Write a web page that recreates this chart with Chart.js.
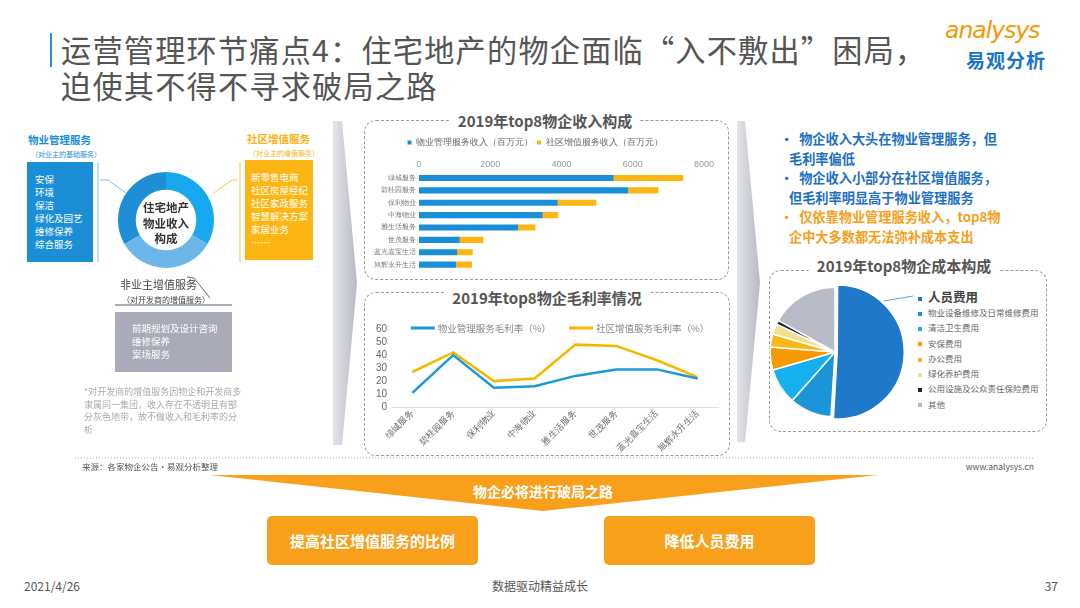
<!DOCTYPE html>
<html>
<head>
<meta charset="utf-8">
<script src="https://cdn.jsdelivr.net/npm/chart.js@4.4.1/dist/chart.umd.min.js"></script>
<style>
  body { margin: 0; background: #fff; font-family: "Noto Sans CJK SC", "Noto Sans", sans-serif; }
  #slide { position: relative; width: 1080px; height: 608px; overflow: hidden; background: #fff; }
  .abs { position: absolute; white-space: nowrap; }
  .box { position: absolute; border: 1px dashed #9a9a9a; border-radius: 12px; }
  .boxTitle { position: absolute; background: #fff; padding: 0 8px; font-weight: bold; font-size: 15px; color: #555; white-space: nowrap; transform: translate(-50%, -50%); }
  .list { position: absolute; color: #fff; font-size: 9.5px; line-height: 13px; white-space: nowrap; }
  .bullet { position: absolute; font-size: 13.2px; font-weight: bold; line-height: 19.5px; white-space: nowrap; }
  .pieLegend div { height: 15.3px; line-height: 15.3px; font-size: 8.5px; color: #666; white-space: nowrap; }
  .pieLegend span { display: inline-block; width: 4px; height: 4px; margin-right: 6px; vertical-align: middle; }
</style>
</head>
<body>
<div id="slide">
  <svg class="abs" style="left:0;top:0" width="1080" height="608">
    <defs>
      <linearGradient id="chev" x1="0" y1="0" x2="1" y2="0">
        <stop offset="0" stop-color="#e4e5ea"/>
        <stop offset="1" stop-color="#b7b9c4"/>
      </linearGradient>
    </defs>
    <rect x="50" y="33" width="2" height="34" fill="#1f8fe0"/>
    <polygon points="333,121 342,121 357,283 342,445 333,445 333,121" fill="url(#chev)"/>
    <polygon points="737,121 745,121 760,283 745,442 737,442 737,121" fill="url(#chev)"/>
    <line x1="98" y1="163" x2="98" y2="262" stroke="#7cc0ee" stroke-width="1"/>
    <polyline points="100,180 108,180 126,193" fill="none" stroke="#7cc0ee" stroke-width="1"/>
    <line x1="240" y1="162" x2="240" y2="262" stroke="#f9c34a" stroke-width="1"/>
    <polyline points="238,180 232,180 214,193" fill="none" stroke="#f9c34a" stroke-width="1"/>
    <polyline points="187,277 194,278 210,298" fill="none" stroke="#666" stroke-width="1"/>
    <line x1="115" y1="305" x2="232" y2="305" stroke="#a9acb8" stroke-width="2"/>
    <line x1="884" y1="301" x2="913" y2="296" stroke="#5aa3e0" stroke-width="1"/>
    <line x1="75" y1="458" x2="1035" y2="458" stroke="#aaa" stroke-width="1" stroke-dasharray="1,2"/>
    <polygon points="210,475 878,475 543,511" fill="#f8a01c"/>
  </svg>

  <!-- title -->
  <div class="abs" style="left:61px;top:34px;font-size:30.2px;letter-spacing:1.2px;line-height:31px;color:#555;">运营管理环节痛点4：住宅地产的物企面临“入不敷出”困局，</div>
  <div class="abs" style="left:61px;top:70px;font-size:30.2px;letter-spacing:1.2px;line-height:31px;color:#555;">迫使其不得不寻求破局之路</div>
  <div class="abs" style="left:945px;top:16px;font-size:23.5px;font-style:italic;color:#f39800;font-family:'DejaVu Sans';letter-spacing:-1px;">analysys</div>
  <div class="abs" style="left:966px;top:46px;font-size:19px;font-weight:bold;color:#1a75c8;letter-spacing:1px;">易观分析</div>

  <!-- left diagram -->
  <div class="abs" style="left:28px;top:132px;font-size:10.5px;color:#1a8fd8;font-weight:bold;">物业管理服务</div>
  <div class="abs" style="left:31px;top:149px;font-size:7px;color:#1a8fd8;">（对业主的基础服务）</div>
  <div class="abs" style="left:27px;top:162px;width:66px;height:100px;background:#1a8fd8;"></div>
  <div class="list" style="left:35px;top:173px;">安保<br>环境<br>保洁<br>绿化及园艺<br>维修保养<br>综合服务</div>

  <div class="abs" style="left:247px;top:131px;font-size:10.5px;color:#f9b213;font-weight:bold;">社区增值服务</div>
  <div class="abs" style="left:249px;top:148px;font-size:7px;color:#f9b213;">（对业主的增值服务）</div>
  <div class="abs" style="left:245px;top:160px;width:68px;height:100px;background:#fbb613;"></div>
  <div class="list" style="left:251px;top:171px;">新零售电商<br>社区房屋经纪<br>社区家政服务<br>智慧解决方案<br>家居业务<br>……</div>

  <div class="abs" style="left:118px;top:172px;width:96px;height:96px;"><canvas id="ringChart" width="96" height="96"></canvas></div>
  <div class="abs" style="left:136px;top:200px;width:60px;text-align:center;font-size:11.5px;line-height:15.5px;font-weight:bold;color:#333;">住宅地产<br>物业收入<br>构成</div>

  <div class="abs" style="left:120px;top:276px;font-size:11px;color:#444;">非业主增值服务</div>
  <div class="abs" style="left:122px;top:294px;font-size:8px;color:#444;">（对开发商的增值服务）</div>
  <div class="abs" style="left:115px;top:312px;width:117px;height:60px;background:#a9acb8;"></div>
  <div class="list" style="left:132px;top:322px;font-size:9.5px;line-height:12.8px;">前期规划及设计咨询<br>维修保养<br>案场服务</div>
  <div class="abs" style="left:84px;top:386px;width:158px;font-size:9px;line-height:12.7px;color:#aaa;white-space:normal;">*对开发商的增值服务因物企和开发商多隶属同一集团，收入存在不透明且有部分灰色地带，故不做收入和毛利率的分析</div>

  <!-- middle charts -->
  <div class="box" style="left:364px;top:120px;width:363px;height:158px;"></div>
  <div class="boxTitle" style="left:545px;top:120px;">2019年top8物企收入构成</div>
  <div class="abs" style="left:366px;top:134px;width:358px;height:144px;"><canvas id="revenueChart" width="358" height="144"></canvas></div>

  <div class="box" style="left:364px;top:292px;width:364px;height:162px;"></div>
  <div class="boxTitle" style="left:547px;top:297px;">2019年top8物企毛利率情况</div>
  <div class="abs" style="left:366px;top:318px;width:358px;height:137px;"><canvas id="marginChart" width="358" height="137"></canvas></div>

  <!-- right side -->
  <div class="bullet" style="left:780px;top:129px;color:#1e6fc4;">·&nbsp;&nbsp;物企收入大头在物业管理服务，但<br>&nbsp;&nbsp;&nbsp;毛利率偏低</div>
  <div class="bullet" style="left:780px;top:168px;color:#1e6fc4;">·&nbsp;&nbsp;物企收入小部分在社区增值服务，<br>&nbsp;&nbsp;&nbsp;但毛利率明显高于物业管理服务</div>
  <div class="bullet" style="left:780px;top:207px;color:#f5a01a;">·&nbsp;&nbsp;仅依靠物业管理服务收入，top8物<br>&nbsp;&nbsp;&nbsp;企中大多数都无法弥补成本支出</div>

  <div class="box" style="left:769px;top:270px;width:276px;height:160px;"></div>
  <div class="boxTitle" style="left:904px;top:265px;">2019年top8物企成本构成</div>
  <div class="abs" style="left:765px;top:282px;width:140px;height:140px;"><canvas id="costChart" width="140" height="140"></canvas></div>
  <div class="abs pieLegend" id="costLegend" style="left:918px;top:289px;"></div>

  <!-- footer -->
  <div class="abs" style="left:82px;top:460px;font-size:8.5px;color:#555;">来源：各家物企公告·易观分析整理</div>
  <div class="abs" style="right:46px;top:460px;font-size:8.5px;color:#555;">www.analysys.cn</div>
  <div class="abs" style="left:443px;top:481px;width:200px;text-align:center;font-size:14px;font-weight:bold;color:#fff;">物企必将进行破局之路</div>
  <div class="abs" style="left:267px;top:516px;width:211px;height:49px;background:#f8a01c;border-radius:5px;line-height:49px;text-align:center;font-size:15px;font-weight:bold;color:#fff;">提高社区增值服务的比例</div>
  <div class="abs" style="left:604px;top:516px;width:211px;height:49px;background:#f8a01c;border-radius:5px;line-height:49px;text-align:center;font-size:15px;font-weight:bold;color:#fff;">降低人员费用</div>
  <div class="abs" style="left:24px;top:577px;font-size:12px;color:#555;">2021/4/26</div>
  <div class="abs" style="left:440px;top:577px;width:200px;text-align:center;font-size:12px;color:#555;">数据驱动精益成长</div>
  <div class="abs" style="right:22px;top:577px;font-size:12px;color:#555;">37</div>
</div>

<script>
// 2019 top8 property companies
const companies = ['绿城服务', '碧桂园服务', '保利物业', '中海物业', '雅生活服务', '世茂服务', '蓝光嘉宝生活', '旭辉永升生活'];

// revenue, million yuan
const pmRevenue = [5450, 5860, 3880, 3460, 2770, 1130, 1060, 1030];
const vasRevenue = [1960, 850, 1090, 440, 490, 670, 440, 450];
const revenueTicks = [0, 2000, 4000, 6000, 8000];

// gross margin, %
const pmMargin = [11, 40, 15, 16, 24, 29, 29, 22];
const vasMargin = [27, 42, 20, 22, 48, 47, 36, 23];
const marginTicks = [0, 10, 20, 30, 40, 50, 60];

// cost structure, %
const costItems = ['人员费用', '物业设备维修及日常维修费用', '清洁卫生费用', '安保费用', '办公费用', '绿化养护费用', '公用设施及公众责任保险费用', '其他'];
const costShare = [51, 10.5, 9, 5.7, 3.3, 2.6, 1, 16.9];
const costColors = ['#1f78c8', '#1a95d8', '#17b0ee', '#f59a00', '#f9b81a', '#f3e08c', '#1c2a4a', '#b8bcc8'];

// income structure ring (diagram, equal parts)
const ringParts = ['社区增值服务', '非业主增值服务', '物业管理服务'];
const ringWeights = [1, 1, 1];
const ringColors = ['#17a9ee', '#6cb6ea', '#1e8fd6'];

// legend drawn on the top line of the plot, next to the top tick
const inlineLegend = {
  id: 'inlineLegend',
  afterDraw(chart) {
    const ctx = chart.ctx;
    const area = chart.chartArea;
    const sets = chart.data.datasets;
    ctx.save();
    ctx.font = '9.5px "Noto Sans CJK SC"';
    ctx.textBaseline = 'middle';
    const lineW = 24, gapText = 3, gapItem = 18;
    const widths = sets.map(d => lineW + gapText + ctx.measureText(d.label).width);
    const total = widths.reduce((a, b) => a + b, 0) + gapItem;
    let x = (area.left + area.right) / 2 - total / 2 + 5;
    const y = area.top - 1;
    sets.forEach((d, i) => {
      ctx.fillStyle = d.borderColor;
      ctx.fillRect(x, y - 1.5, lineW, 3);
      ctx.fillStyle = '#888';
      ctx.fillText(d.label, x + lineW + gapText, y);
      x += widths[i] + gapItem;
    });
    ctx.restore();
  }
};

new Chart(document.getElementById('ringChart').getContext('2d'), {
  type: 'doughnut',
  data: {
    labels: ringParts,
    datasets: [{ data: ringWeights, backgroundColor: ringColors, borderWidth: 0 }]
  },
  options: {
    responsive: false, animation: false, cutout: '63%',
    plugins: { legend: { display: false }, tooltip: { enabled: false } }
  }
});

new Chart(document.getElementById('revenueChart').getContext('2d'), {
  type: 'bar',
  data: {
    labels: companies,
    datasets: [
      { label: '物业管理服务收入（百万元）', data: pmRevenue, backgroundColor: '#1a8fd8', barThickness: 5.5 },
      { label: '社区增值服务收入（百万元）', data: vasRevenue, backgroundColor: '#fbb613', barThickness: 5.5 }
    ]
  },
  options: {
    indexAxis: 'y', responsive: false, animation: false,
    layout: { padding: { right: 20, top: 0, bottom: 0 } },
    scales: {
      x: {
        stacked: true, position: 'top', min: 0, max: 8000,
        afterBuildTicks: (axis) => { axis.ticks = revenueTicks.map(v => ({ value: v })); },
        ticks: { color: '#999', font: { size: 9 }, padding: 2, callback: (v) => String(v) },
        grid: { display: false, drawTicks: false }, border: { display: false }
      },
      y: {
        stacked: true,
        ticks: { color: '#777', font: { size: 7 }, padding: 3, autoSkip: false },
        grid: { display: false, drawTicks: false }, border: { display: false },
        afterFit: (axis) => { axis.width = 53; }
      }
    },
    plugins: {
      legend: { position: 'top', labels: { boxWidth: 4, boxHeight: 4, font: { size: 9 }, color: '#666', padding: 4 } },
      tooltip: { enabled: false }
    }
  }
});

new Chart(document.getElementById('marginChart').getContext('2d'), {
  type: 'line',
  data: {
    labels: companies,
    datasets: [
      { label: '物业管理服务毛利率（%）', data: pmMargin, borderColor: '#1a9ad6', backgroundColor: '#1a9ad6', borderWidth: 2.5, pointRadius: 0, tension: 0 },
      { label: '社区增值服务毛利率（%）', data: vasMargin, borderColor: '#f5b800', backgroundColor: '#f5b800', borderWidth: 2.5, pointRadius: 0, tension: 0 }
    ]
  },
  options: {
    responsive: false, animation: false,
    layout: { padding: { top: 3, right: 6 } },
    scales: {
      x: {
        offset: true,
        ticks: { color: '#666', font: { size: 9 }, minRotation: 45, maxRotation: 45, padding: 1, autoSkip: false },
        grid: { display: false, drawTicks: false }, border: { color: '#e0e0e0' }
      },
      y: {
        min: 0, max: 60,
        afterBuildTicks: (axis) => { axis.ticks = marginTicks.map(v => ({ value: v })); },
        ticks: { color: '#666', font: { size: 10 }, padding: 5, autoSkip: false },
        grid: { display: false, drawTicks: false }, border: { display: false },
        afterFit: (axis) => { axis.width = 26; }
      }
    },
    plugins: { legend: { display: false }, tooltip: { enabled: false } }
  },
  plugins: [inlineLegend]
});

new Chart(document.getElementById('costChart').getContext('2d'), {
  type: 'pie',
  data: {
    labels: costItems,
    datasets: [{
      data: costShare, backgroundColor: costColors,
      borderColor: '#fff', borderWidth: 1.5,
      offset: costShare.map((v, i) => i === 0 ? 9 : 0)
    }]
  },
  options: {
    responsive: false, animation: false,
    plugins: { legend: { display: false }, tooltip: { enabled: false } }
  }
});

// html legend for the cost pie
const legendEl = document.getElementById('costLegend');
costItems.forEach((name, i) => {
  const row = document.createElement('div');
  if (i === 0) { row.style.fontSize = '12.5px'; row.style.fontWeight = 'bold'; row.style.color = '#444'; row.style.height = '16px'; row.style.lineHeight = '16px'; }
  row.innerHTML = '<span style="background:' + costColors[i] + '"></span>' + name;
  legendEl.appendChild(row);
});
</script>
</body>
</html>
